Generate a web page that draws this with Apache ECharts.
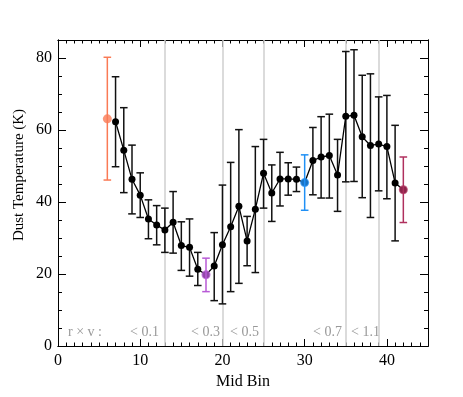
<!DOCTYPE html>
<html>
<head>
<meta charset="utf-8">
<script src="https://cdn.jsdelivr.net/npm/echarts@6/dist/echarts.min.js"></script>
<style>html,body{margin:0;padding:0;background:#fff}#c{width:463px;height:397px}</style>
</head>
<body>
<div id="c"></div>
<script>
// ---- data ----
const lineBins = [7,8,9,10,11,12,13,14,15,16,17,18,19,20,21,22,23,24,25,26,27,28,29,30,31,32,33,34,35,36,37,38,39,40,41,42];
const lineTemp = [62.3,54.4,46.3,41.9,35.3,33.6,32.2,34.4,27.9,27.4,21.3,19.8,22.2,28.1,33.1,38.8,29.2,38.0,48.0,42.5,46.4,46.4,46.3,45.4,51.5,52.5,52.9,47.5,63.8,64.1,58.1,55.7,56.1,55.4,45.3,43.4];
const lineLow  = [49.8,42.6,36.7,35.7,29.8,28.1,26.0,25.8,21.0,19.4,16.8,15.1,12.6,11.7,15.1,17.4,22.3,20.4,38.3,34.6,38.9,41.9,42.9,37.7,42.0,41.1,41.1,37.4,45.6,45.7,41.2,35.7,43.1,40.9,29.2,34.3];
const lineHigh = [74.8,66.2,55.8,48.1,40.6,39.0,38.3,42.9,34.5,35.3,26.0,24.4,31.5,44.7,51.0,60.1,36.0,55.4,57.4,50.3,53.8,50.9,49.7,53.1,60.7,63.7,64.4,57.4,81.8,82.3,75.2,75.6,69.2,69.6,61.3,52.5];
const hlBins   = [6, 18, 30, 42];
const hlTemp   = [63.1, 19.8, 45.4, 43.4];
const hlLow    = [46.1, 15.1, 37.7, 34.3];
const hlHigh   = [80.2, 24.4, 53.1, 52.5];
const hlColors = ['#FA7A55', '#B85AD6', '#2090F5', '#B0305E'];
const boundaries = [13, 20, 25, 35, 39];
const rvLabels = ['r \u00d7 v :', '< 0.1', '< 0.3', '< 0.5', '< 0.7', '< 1.1'];
const xTicks = [0, 10, 20, 30, 40];
const yTicks = [0, 20, 40, 60, 80];

const serif = '"Liberation Serif", "DejaVu Serif", serif';
const black = '#000';

function errRender(params, api) {
  const x = api.value(0), lo = api.value(1), hi = api.value(2);
  const a = api.coord([x, hi]), b = api.coord([x, lo]);
  const c = api.visual('color');
  const hw = 3.8;
  const st = {stroke: c, lineWidth: 1.5};
  return {type: 'group', children: [
    {type: 'line', shape: {x1: a[0], y1: a[1], x2: b[0], y2: b[1]}, style: st},
    {type: 'line', shape: {x1: a[0]-hw, y1: a[1], x2: a[0]+hw, y2: a[1]}, style: st},
    {type: 'line', shape: {x1: b[0]-hw, y1: b[1], x2: b[0]+hw, y2: b[1]}, style: st}
  ]};
}

const mainErr = [];
lineBins.forEach((b, i) => { if (hlBins.indexOf(b) < 0) mainErr.push([b, lineLow[i], lineHigh[i]]); });
const hlErr = hlBins.map((b, i) => ({value: [b, hlLow[i], hlHigh[i]], itemStyle: {color: hlColors[i]}}));
const hlPts = hlBins.map((b, i) => ({value: [b, hlTemp[i]], itemStyle: {color: hlColors[i]}}));

function mkX(pos, interval, tickLen, labels) {
  return {
    type: 'value', min: 0, max: 45, interval: interval, position: pos,
    axisLine: {show: true, onZero: false, lineStyle: {color: black, width: 1}},
    axisTick: {show: true, inside: true, length: tickLen, lineStyle: {color: black, width: 1}},
    axisLabel: labels ? {show: true, color: black, fontFamily: serif, fontSize: 16, margin: 7,
      formatter: v => (xTicks.indexOf(v) >= 0 ? String(v) : '')} : {show: false},
    splitLine: {show: false},
    name: labels ? 'Mid Bin' : '', nameLocation: 'middle', nameGap: 25,
    nameTextStyle: {color: black, fontFamily: serif, fontSize: 16}
  };
}
function mkY(pos, interval, tickLen, labels) {
  return {
    type: 'value', min: 0, max: 85, interval: interval, position: pos,
    axisLine: {show: true, onZero: false, lineStyle: {color: black, width: 1}},
    axisTick: {show: true, inside: true, length: tickLen, lineStyle: {color: black, width: 1}},
    axisLabel: labels ? {show: true, color: black, fontFamily: serif, fontSize: 16, margin: 6,
      formatter: v => (yTicks.indexOf(v) >= 0 ? String(v) : '')} : {show: false},
    splitLine: {show: false}
  };
}

const chart = echarts.init(document.getElementById('c'), null, {renderer: 'canvas'});
const labelFont = '14px ' + serif;
const labelPos = [[68,'left'],[159,'right'],[220,'right'],[230,'left'],[342,'right'],[351,'left']];
const graphics = rvLabels.map((t, i) => ({
  type: 'text', x: labelPos[i][0], y: 332, silent: true,
  style: {text: t, font: labelFont, fill: '#999999', textAlign: labelPos[i][1], textVerticalAlign: 'middle'}
}));
graphics.push({
  type: 'text', x: 19, y: 175, rotation: Math.PI / 2, silent: true,
  style: {text: 'Dust Temperature (K)', font: '15px ' + serif, fill: black, textAlign: 'center', textVerticalAlign: 'middle'}
});
chart.setOption({
  animation: false,
  backgroundColor: '#fff',
  grid: {left: 58, right: 35, top: 40, bottom: 51, containLabel: false},
  xAxis: [mkX('bottom', 10, 7, true), mkX('bottom', 1, 3.5, false), mkX('top', 10, 7, false), mkX('top', 1, 3.5, false)],
  yAxis: [mkY('left', 20, 8, true), mkY('left', 5, 4, false), mkY('right', 20, 8, false), mkY('right', 5, 4, false)],
  graphic: graphics,
  series: [
    {type: 'line', data: [], xAxisIndex: 0, yAxisIndex: 0, silent: true, z: 1,
     markLine: {silent: true, z: 1, symbol: ['none','none'], label: {show: false},
       lineStyle: {color: '#cfcfcf', type: 'solid', width: 1.5},
       emphasis: {disabled: true},
       data: boundaries.map(b => ({xAxis: b}))}},
    {type: 'custom', renderItem: errRender, data: mainErr, itemStyle: {color: '#111'}, z: 2, encode: {x: 0, y: [1, 2]}},
    {type: 'line', data: lineBins.map((b, i) => [b, lineTemp[i]]), z: 3,
     lineStyle: {color: '#000', width: 1.3}, itemStyle: {color: '#000'},
     symbol: 'circle', symbolSize: 7, showSymbol: true},
    {type: 'custom', renderItem: errRender, data: hlErr, z: 4, encode: {x: 0, y: [1, 2]}},
    {type: 'scatter', data: hlPts, symbol: 'circle', symbolSize: 9, z: 5}
  ]
});
</script>
</body>
</html>
